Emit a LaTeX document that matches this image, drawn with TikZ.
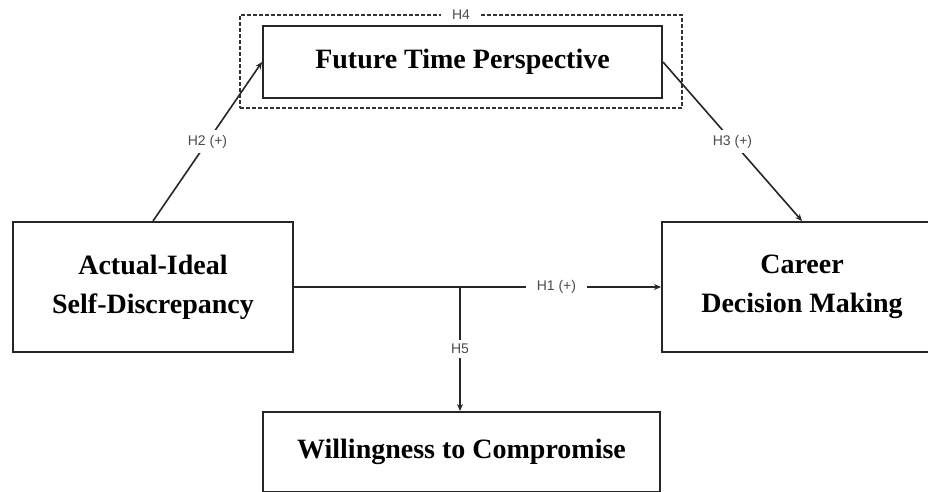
\documentclass[tikz,border=0pt]{standalone}
\usepackage{fontspec}
\setmainfont{Liberation Serif}
\setsansfont{Liberation Sans}
\usetikzlibrary{arrows.meta}
\tikzset{
  varbox/.style={draw=black!85, line width=2pt, fill=white, inner sep=0pt, align=center,
    font=\fontsize{28}{39}\selectfont\bfseries},
  hyplabel/.style={fill=white, inner xsep=11pt, inner ysep=4pt, text=black!70, font=\sffamily\fontsize{14}{16}\selectfont},
  link/.style={draw=black!85, line width=1.6pt},
  arrowlink/.style={link, -{Stealth[length=7pt,width=6pt]}},
  groupbox/.style={draw=black!80, line width=1.5pt, dash pattern=on 4pt off 2pt, inner sep=0pt}
}
\begin{document}
\begin{tikzpicture}[x=1pt,y=-1pt]
\useasboundingbox (0,0) rectangle (928,491);
\clip (0,0) rectangle (928,491);
\fill[white] (0,0) rectangle (928,491);
\node[groupbox, minimum width=442pt, minimum height=93pt] (h4box) at (461,61.5) {};
\node[hyplabel, inner ysep=1pt] (h4lab) at (h4box.north) {H4};
\node[varbox, minimum width=399pt, minimum height=72pt] (ftp) at (462.5,62) {Future Time Perspective};
\node[varbox, minimum width=280pt, minimum height=130pt] (aisd) at (153,287) {Actual-Ideal\\Self-Discrepancy};
\node[varbox, minimum width=280pt, minimum height=130pt] (cdm) at (802,287) {Career\\Decision Making};
\node[varbox, minimum width=397pt, minimum height=80pt] (wtc) at (461.5,452) {Willingness to Compromise};
\coordinate (junc) at (460,287);
\draw[arrowlink] (aisd.north) -- node[hyplabel, inner xsep=3pt, inner ysep=5pt] (h2) {H2 (+)} (ftp.west);
\draw[arrowlink] (ftp.east) -- node[hyplabel, inner xsep=3pt, inner ysep=5pt] (h3) {H3 (+)} (cdm.north);
\draw[arrowlink] (aisd.east) -- node[hyplabel, pos=0.715] (h1) {H1 (+)} (cdm.west);
\draw[arrowlink] (junc) -- node[hyplabel, inner xsep=2pt] (h5) {H5} (junc |- wtc.north);
\end{tikzpicture}
\end{document}
